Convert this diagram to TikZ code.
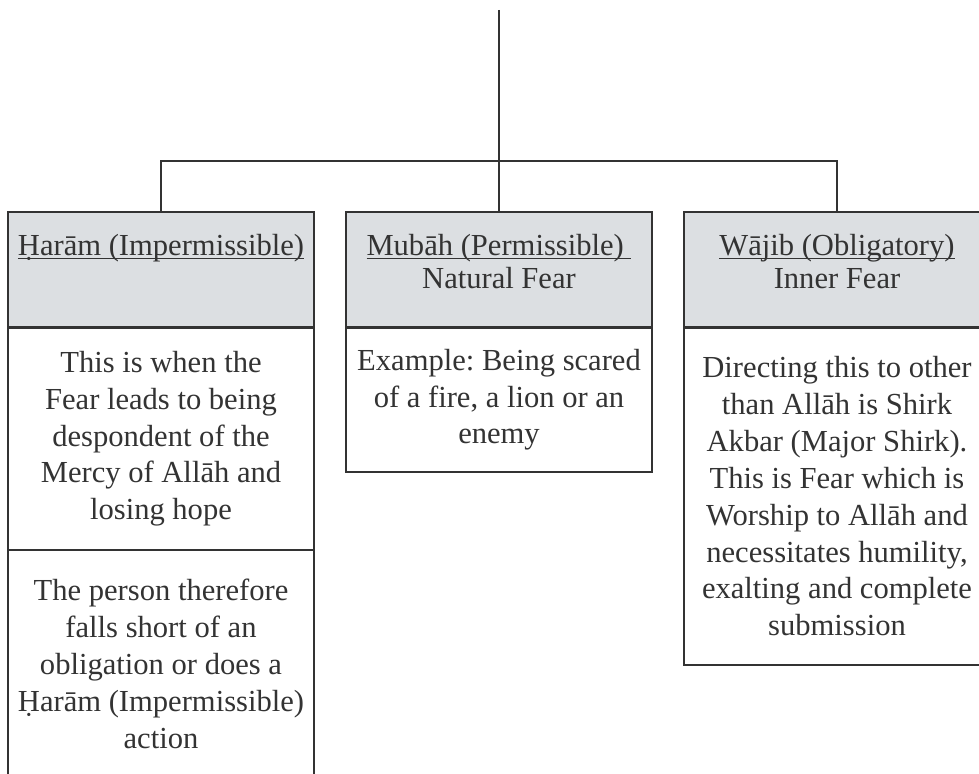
\documentclass[tikz,border=0pt]{standalone}
\usepackage{fontspec}
\setmainfont{Liberation Serif}
\usetikzlibrary{positioning}
\definecolor{hdrgray}{RGB}{220,223,226}
\definecolor{linegray}{RGB}{51,51,51}
\newsavebox{\hdrbox}
\newcommand{\hdrul}[1]{\sbox{\hdrbox}{#1}\rlap{\rule[-2.3pt]{\wd\hdrbox}{0.6pt}}\usebox{\hdrbox}}
\frenchspacing

\begin{document}
\begin{tikzpicture}[line width=1.4pt,color=linegray,font=\fontsize{17.4}{21}\selectfont]
        %
        % `header' is the grey top of each column, `panel' the white boxes below.
        % `title' is the text that sits at the top of a header.
        \tikzstyle{header} = [draw,fill=hdrgray,minimum width=6.12cm,minimum height=2.31cm,inner sep=0pt,outer sep=0pt]
        \tikzstyle{panel} = [draw,fill=white,minimum width=6.12cm,inner sep=0pt,outer sep=0pt,align=center]
        \tikzstyle{title} = [align=center,inner sep=0pt,anchor=north]
        %
        % Frame
        \useasboundingbox (0,0) rectangle (19.58,15.46);
        \clip (0,0) rectangle (19.58,15.46);
        %
        % Headers
        \node[header,anchor=north] (hL) at (3.22,11.22) {};
        \node[header,anchor=north] (hM) at (9.98,11.22) {};
        \node[header,anchor=north] (hR) at (16.74,11.22) {};
        %
        % Connectors
        \coordinate[above=4.04cm of hM.north] (top);
        \coordinate[above=1.02cm of hM.north] (join);
        \draw (top) -- (hM.north);
        \draw (hL.north) |- (join) -| (hR.north);
        %
        % Titles
        \node[title] (tL) at ([yshift=-0.42cm]hL.north) {\hdrul{Ḥarām (Impermissible)}};
        \node[title] (tM) at ([yshift=-0.42cm]hM.north) {\hdrul{Mubāh (Permissible)\ }\\[-2.3pt]Natural Fear};
        \node[title] (tR) at ([yshift=-0.42cm]hR.north) {\hdrul{Wājib (Obligatory)}\\[-2.3pt]Inner Fear};
        %
        % Left column
        \node[panel,below=0pt of hL,minimum height=4.45cm] (bL1) {This is when the\\Fear leads to being\\despondent of the\\Mercy of Allāh and\\losing hope};
        \node[panel,below=0pt of bL1,minimum height=4.56cm] (bL2) {The person therefore\\falls short of an\\obligation or does a\\Ḥarām (Impermissible)\\action};
        %
        % Middle column
        \node[panel,below=0pt of hM,minimum height=2.89cm] (bM) {Example: Being scared\\of a fire, a lion or an\\enemy};
        %
        % Right column
        \node[panel,below=0pt of hR,minimum height=6.75cm] (bR) {Directing this to other\\than Allāh is Shirk\\Akbar (Major Shirk).\\This is Fear which is\\Worship to Allāh and\\necessitates humility,\\exalting and complete\\submission};
        %
\end{tikzpicture}
\end{document}
